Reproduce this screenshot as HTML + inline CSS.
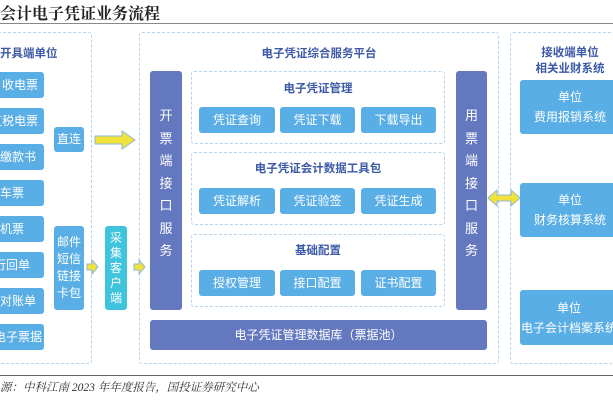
<!DOCTYPE html><html><head><meta charset="utf-8"><style>
*{margin:0;padding:0;box-sizing:border-box}
body{width:613px;height:405px;overflow:hidden;background:#fff;position:relative;font-family:"Liberation Sans","Noto Sans CJK SC",sans-serif}
.a{position:absolute}
.d{position:absolute;border:1.5px dashed #b7d3ea;border-radius:3px}
.b{position:absolute;background:#5aaee6;color:#fff;border-radius:3px;display:flex;align-items:center;justify-content:center;text-align:center;font-size:12px;line-height:17px;white-space:nowrap}
.v{position:absolute;background:#6478c0;color:#fff;border-radius:3px;font-size:13px;text-align:center;line-height:22.5px}
.h{position:absolute;color:#3d5aa8;font-weight:bold;font-size:11.5px;text-align:center}
</style></head><body>
<div class="a" style="left:0;top:1px;font-size:16px;font-weight:bold;font-family:'Noto Serif CJK SC',serif;color:#222">会计电子凭证业务流程</div>
<div class="a" style="left:0;top:23px;width:613px;height:1px;background:#888"></div>
<div class="d" style="left:-10px;top:32px;width:102px;height:332px"></div>
<div class="d" style="left:139px;top:32px;width:360px;height:332px"></div>
<div class="d" style="left:510px;top:32px;width:110px;height:332px"></div>
<div class="h" style="left:0;top:45px;text-align:left">开具端单位</div>
<div class="b" style="left:-40px;top:72px;width:84px;height:26px;justify-content:flex-end;padding-right:6px">收电票</div>
<div class="b" style="left:-40px;top:108px;width:84px;height:26px;justify-content:flex-end;padding-right:6px">直税电票</div>
<div class="b" style="left:-40px;top:144px;width:84px;height:26px;justify-content:flex-end;padding-right:8px">缴款书</div>
<div class="b" style="left:-40px;top:180px;width:84px;height:26px;justify-content:flex-end;padding-right:20px">火车票</div>
<div class="b" style="left:-40px;top:216px;width:84px;height:26px;justify-content:flex-end;padding-right:20px">飞机票</div>
<div class="b" style="left:-40px;top:252px;width:84px;height:26px;justify-content:flex-end;padding-right:14px">银行回单</div>
<div class="b" style="left:-40px;top:288px;width:84px;height:26px;justify-content:flex-end;padding-right:8px">银行对账单</div>
<div class="b" style="left:-40px;top:324px;width:84px;height:26px;justify-content:flex-end;padding-right:2px">电子票据</div>
<div class="b" style="left:54px;top:127px;width:30px;height:25px">直连</div>
<div class="b" style="left:54px;top:226px;width:30px;height:84px;line-height:17px">邮件<br>短信<br>链接<br>卡包</div>
<div class="b" style="left:105px;top:226px;width:22px;height:84px;background:#3ec4dc;font-size:12px;line-height:15px">采<br>集<br>客<br>户<br>端</div>
<svg class="a" style="left:0;top:0" width="613" height="405">
<g fill="#f2e33a" stroke="#8fb6d8" stroke-width="1">
<polygon points="95,136 122,136 122,131 135,140 122,149 122,144 95,144"/>
<polygon points="87,264 92,264 92,260 98,267 92,274 92,270 87,270"/>
<polygon points="134,264 139,264 139,260 145,267 139,274 139,270 134,270"/>
<polygon points="488,198 497,190 497,195 511,195 511,190 520,198 511,206 511,201 497,201 497,206"/>
</g></svg>
<div class="h" style="left:139px;top:45px;width:360px">电子凭证综合服务平台</div>
<div class="v" style="left:150px;top:71px;width:32px;height:239px;padding-top:34px">开<br>票<br>端<br>接<br>口<br>服<br>务</div>
<div class="v" style="left:456px;top:71px;width:31px;height:239px;padding-top:34px">用<br>票<br>端<br>接<br>口<br>服<br>务</div>
<div class="d" style="left:191px;top:71px;width:254px;height:73px"></div>
<div class="d" style="left:191px;top:152px;width:254px;height:73px"></div>
<div class="d" style="left:191px;top:234px;width:254px;height:73px"></div>
<div class="h" style="left:191px;top:80px;width:254px">电子凭证管理</div>
<div class="h" style="left:191px;top:160px;width:254px">电子凭证会计数据工具包</div>
<div class="h" style="left:191px;top:242px;width:254px">基础配置</div>
<div class="b" style="left:199px;top:107px;width:76px;height:26px">凭证查询</div>
<div class="b" style="left:280px;top:107px;width:75px;height:26px">凭证下载</div>
<div class="b" style="left:361px;top:107px;width:75px;height:26px">下载导出</div>
<div class="b" style="left:199px;top:188px;width:76px;height:26px">凭证解析</div>
<div class="b" style="left:280px;top:188px;width:75px;height:26px">凭证验签</div>
<div class="b" style="left:361px;top:188px;width:75px;height:26px">凭证生成</div>
<div class="b" style="left:199px;top:270px;width:76px;height:26px">授权管理</div>
<div class="b" style="left:280px;top:270px;width:75px;height:26px">接口配置</div>
<div class="b" style="left:361px;top:270px;width:75px;height:26px">证书配置</div>
<div class="v" style="left:150px;top:320px;width:337px;height:30px;line-height:30px;font-size:12px">电子凭证管理数据库（票据池）</div>
<div class="h" style="left:510px;top:45px;width:120px;line-height:16px">接收端单位<br>相关业财系统</div>
<div class="b" style="left:520px;top:80px;width:100px;height:54px;line-height:20px">单位<br>费用报销系统</div>
<div class="b" style="left:520px;top:183px;width:100px;height:54px;line-height:20px">单位<br>财务核算系统</div>
<div class="b" style="left:520px;top:290px;width:100px;height:55px;line-height:20px;justify-content:flex-start;padding-left:1px"><div style="text-align:center">单位<br>电子会计档案系统</div></div>
<div class="a" style="left:0;top:375px;width:613px;height:1px;background:#666"></div>
<div class="a" style="left:0;top:379px;font-size:11.5px;font-style:italic;color:#333;font-family:'Liberation Serif','Noto Serif CJK SC',serif">源：中科江南 2023 年年度报告，国投证券研究中心</div>
</body></html>
